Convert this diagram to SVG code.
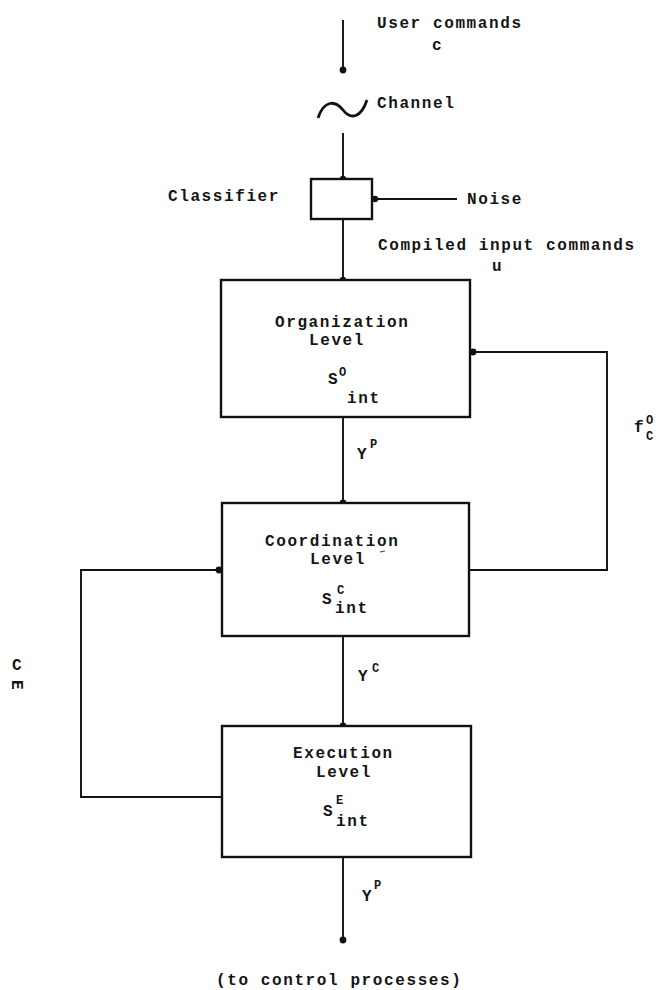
<svg xmlns="http://www.w3.org/2000/svg" width="660" height="990" viewBox="0 0 660 990">
<style>
text{font-family:"Liberation Mono","DejaVu Sans Mono",monospace;font-size:16px;font-weight:bold;fill:#151515;letter-spacing:1.6px}
.s{font-size:12px;letter-spacing:0}
.box{fill:#fff;stroke:#111;stroke-width:2.4}
.ln{fill:none;stroke:#111;stroke-width:1.9}
.dot{fill:#111}
</style>
<rect width="660" height="990" fill="#fff"/>
<g id="connectors">
<line class="ln" x1="343" y1="20" x2="343" y2="70"/>
<circle class="dot" cx="343" cy="70" r="3.4"/>
<path class="ln" style="stroke-width:2.8" d="M318,118 C324,100 335,100 343,110 C351,120 361,118 367,100"/>
<line class="ln" x1="343" y1="133" x2="343" y2="179"/>
<circle class="dot" cx="343" cy="179" r="3.2"/>
<line class="ln" x1="372" y1="199" x2="457" y2="199"/>
<circle class="dot" cx="375" cy="199" r="3.2"/>
<line class="ln" x1="343" y1="219" x2="343" y2="280"/>
<circle class="dot" cx="343" cy="280" r="3.2"/>
<polyline class="ln" points="470,570 607,570 607,352 470,352"/>
<circle class="dot" cx="473" cy="352" r="3.4"/>
<line class="ln" x1="343" y1="417" x2="343" y2="503"/>
<circle class="dot" cx="343" cy="503" r="3.4"/>
<polyline class="ln" points="222,797 81,797 81,570 222,570"/>
<circle class="dot" cx="219" cy="570" r="3.4"/>
<line class="ln" x1="343" y1="636" x2="343" y2="726"/>
<circle class="dot" cx="343" cy="726" r="3.4"/>
<line class="ln" x1="343" y1="857" x2="343" y2="940"/>
<circle class="dot" cx="343" cy="940" r="3.4"/>
</g>
<g id="user-commands">
<text x="377" y="28">User commands</text>
<text x="432" y="50">c</text>
</g>
<g id="channel">
<text x="377" y="108">Channel</text>
</g>
<g id="classifier">
<rect class="box" x="311" y="179" width="61" height="40"/>
<text x="168" y="201">Classifier</text>
</g>
<g id="noise">
<text x="467" y="204">Noise</text>
</g>
<g id="compiled">
<text x="378" y="250">Compiled input commands</text>
<text x="492" y="271">u</text>
</g>
<g id="organization">
<rect class="box" x="221" y="280" width="249" height="137"/>
<text x="275" y="327">Organization</text>
<text x="309" y="345">Level</text>
<text x="328" y="384">S</text>
<text class="s" x="339" y="376">O</text>
<text x="347" y="403">int</text>
</g>
<g id="coordination">
<rect class="box" x="222" y="503" width="247" height="133"/>
<text x="265" y="546">Coordination</text>
<text x="310" y="564">Level</text>
<line x1="380" y1="552" x2="385" y2="551" stroke="#444" stroke-width="1.2"/>
<text x="322" y="604">S</text>
<text class="s" x="337" y="594">C</text>
<text x="335" y="613">int</text>
</g>
<g id="execution">
<rect class="box" x="222" y="726" width="249" height="131"/>
<text x="293" y="758">Execution</text>
<text x="316" y="777">Level</text>
<text x="323" y="816">S</text>
<text class="s" x="336" y="804">E</text>
<text x="336" y="826">int</text>
</g>
<g id="labels">
<text x="357" y="459">Y</text>
<text class="s" x="370" y="448">P</text>
<text x="358" y="681">Y</text>
<text class="s" x="372" y="672">C</text>
<text x="362" y="901">Y</text>
<text class="s" x="374" y="889">P</text>
<text x="634" y="432">f</text>
<text class="s" x="646" y="424">O</text>
<text class="s" x="646" y="440">C</text>
<text x="12" y="670">C</text>
<text x="12" y="690" transform="rotate(90 17 685)">E</text>
<text x="216" y="985">(to control processes)</text>
</g>
</svg>
